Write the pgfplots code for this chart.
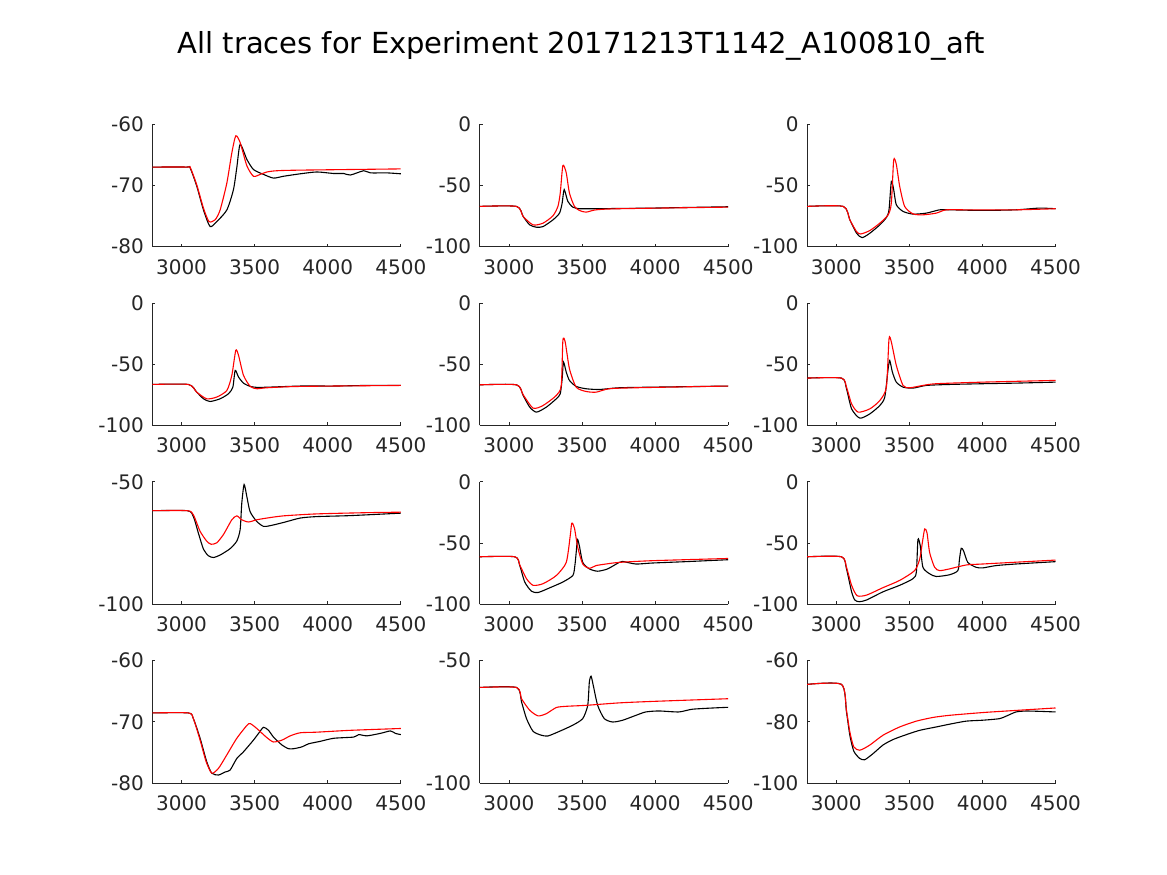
\documentclass[border=0pt]{standalone}
\usepackage{pgfplots}
\pgfplotsset{compat=1.18}
\usepackage{fontspec}
\setmainfont{DejaVu Sans}
\definecolor{axcol}{HTML}{262626}

\pgfplotsset{
  panel/.style={
    scale only axis, width=248.5pt, height=122.5pt, anchor=south west,
    xmin=2800, xmax=4500, xtick={3000,3500,4000,4500},
    axis x line*=bottom, axis y line*=left,
    axis line style={-, color=axcol, line width=0.8pt},
    tick style={color=axcol, line width=0.8pt},
    tick align=inside, major tick length=3pt,
    ticklabel style={font=\fontsize{20}{24}\selectfont, color=axcol},
    xticklabel style={yshift=-9pt},
    yticklabel style={xshift=-5pt},
    /pgf/number format/assume math mode=true,
    /pgf/number format/1000 sep={},
    scaled ticks=false,
  },
  exp/.style={black, line width=1.1pt, smooth, tension=0.4, no marks},
  sim/.style={red, line width=1.1pt, smooth, tension=0.4, no marks},
}

\begin{document}
\begin{tikzpicture}[x=1pt,y=1pt]
\path[use as bounding box] (0,0) rectangle (1167,875);
\node[font=\fontsize{29}{34}\selectfont, color=black] at (581.5,829) {All traces for Experiment 20171213T1142\_A100810\_aft};

% row 1
\begin{axis}[panel, at={(152.3pt,628.3pt)}, ymin=-80, ymax=-60, ytick={-80,-70,-60}]
\addplot[exp] coordinates {(2800,-67.0)(3035,-67.0)(3058,-67.1)(3104,-70.1)(3150,-74.0)(3195,-76.7)(3241,-75.9)(3310,-74.0)(3355,-70.7)(3378,-67.1)(3401,-63.3)(3447,-65.75)(3492,-67.4)(3561,-68.2)(3629,-68.8)(3698,-68.5)(3812,-68.1)(3926,-67.8)(4041,-68.05)(4109,-68.05)(4155,-68.3)(4246,-67.6)(4292,-67.95)(4406,-67.95)(4500,-68.1)};
\addplot[sim] coordinates {(2800,-67.0)(3040,-67.0)(3060,-67.1)(3104,-69.9)(3150,-73.7)(3188,-75.9)(3230,-75.6)(3264,-74.0)(3310,-69.6)(3344,-64.7)(3371,-61.9)(3401,-63.0)(3447,-66.8)(3492,-68.5)(3538,-68.2)(3584,-67.8)(3652,-67.6)(3812,-67.5)(4498,-67.3)};
\end{axis}

\begin{axis}[panel, at={(479.7pt,628.3pt)}, ymin=-100, ymax=0, ytick={-100,-50,0}]
\addplot[exp] coordinates {(2800,-67.1)(3052,-67.1)(3097,-75.3)(3142,-82.2)(3188,-84.1)(3233,-83.6)(3301,-78.1)(3346,-72.6)(3364,-64.4)(3378,-53.4)(3403,-63)(3437,-67.7)(3482,-69.0)(3573,-69)(3754,-68.8)(3981,-68.5)(4208,-68)(4500,-67.4)};
\addplot[sim] coordinates {(2800,-67.1)(3052,-67.1)(3097,-75.3)(3165,-82.2)(3233,-80.8)(3301,-74.8)(3335,-67.1)(3351,-56.2)(3369,-33.7)(3392,-39.7)(3414,-56.2)(3448,-67.1)(3482,-70.4)(3527,-71.8)(3596,-69.9)(3754,-69.0)(4500,-67.7)};
\end{axis}

\begin{axis}[panel, at={(807pt,628.3pt)}, ymin=-100, ymax=0, ytick={-100,-50,0}]
\addplot[exp] coordinates {(2800,-67.1)(3048,-67.1)(3093,-78.1)(3139,-89.0)(3177,-92.6)(3230,-89.0)(3298,-82.2)(3343,-76.2)(3361,-69.9)(3377,-46.6)(3393,-53.4)(3411,-65.8)(3457,-71.2)(3525,-73.4)(3616,-72.6)(3707,-69.9)(3775,-69.9)(4002,-70.4)(4230,-69.9)(4389,-68.5)(4500,-69)};
\addplot[sim] coordinates {(2800,-67.1)(3048,-67.1)(3093,-78.1)(3139,-87.7)(3168,-89.6)(3230,-86.8)(3298,-80.8)(3355,-74)(3377,-64.4)(3393,-29.3)(3411,-32.9)(3434,-50.7)(3468,-67.1)(3525,-73.2)(3593,-74)(3684,-72.6)(3752,-69.9)(3889,-69.9)(4230,-69.9)(4500,-69)};
\end{axis}

% row 2
\begin{axis}[panel, at={(152.3pt,449.5pt)}, ymin=-100, ymax=0, ytick={-100,-50,0}]
\addplot[exp] coordinates {(2800,-66.5)(3047,-66.5)(3104,-72.8)(3150,-78.2)(3195,-80.4)(3264,-78.2)(3321,-74.1)(3351,-68.7)(3367,-55)(3390,-60.5)(3424,-65.4)(3470,-68.1)(3538,-68.9)(3812,-67.8)(4041,-67.8)(4270,-67.3)(4500,-67.3)};
\addplot[sim] coordinates {(2800,-66.5)(3047,-66.5)(3104,-72.8)(3172,-78.2)(3241,-76.8)(3310,-71.4)(3344,-59.1)(3371,-38.7)(3390,-42.8)(3424,-59.1)(3470,-68.1)(3515,-70)(3584,-69.2)(3812,-68.1)(4500,-67.3)};
\end{axis}

\begin{axis}[panel, at={(479.7pt,449.5pt)}, ymin=-100, ymax=0, ytick={-100,-50,0}]
\addplot[exp] coordinates {(2800,-66.8)(3052,-66.8)(3097,-75.5)(3142,-85.0)(3188,-89.1)(3256,-85)(3324,-78.2)(3351,-74.1)(3364,-61.9)(3373,-48.2)(3392,-56.4)(3414,-63.2)(3460,-68.1)(3527,-70)(3618,-70.6)(3754,-69.2)(3981,-68.7)(4500,-67.8)};
\addplot[sim] coordinates {(2800,-66.8)(3052,-66.8)(3097,-74.9)(3165,-85.8)(3233,-83.7)(3324,-75.5)(3358,-67.3)(3369,-30.5)(3385,-31.9)(3414,-53.7)(3460,-68.7)(3527,-72.2)(3596,-72.8)(3686,-70)(3868,-69.2)(4500,-67.8)};
\end{axis}

\begin{axis}[panel, at={(807pt,449.5pt)}, ymin=-100, ymax=0, ytick={-100,-50,0}]
\addplot[exp] coordinates {(2800,-61.3)(3036,-61.3)(3070,-70)(3105,-86.4)(3161,-94)(3230,-90.5)(3298,-83.7)(3332,-76.8)(3355,-53.7)(3366,-46.9)(3384,-56.4)(3411,-64.6)(3457,-68.7)(3525,-69.5)(3616,-67.3)(3775,-66.5)(4002,-65.9)(4230,-65.4)(4500,-64.6)};
\addplot[sim] coordinates {(2800,-61.3)(3036,-61.3)(3070,-68.7)(3105,-82.3)(3150,-89.1)(3230,-86.4)(3298,-79.6)(3343,-68.7)(3361,-29.2)(3377,-31.9)(3411,-51.0)(3457,-67.3)(3502,-69.2)(3593,-67.3)(3684,-65.9)(4002,-64.6)(4500,-63.2)};
\end{axis}

% row 3
\begin{axis}[panel, at={(152.3pt,270.7pt)}, ymin=-100, ymax=-50, ytick={-100,-50}]
\addplot[exp] coordinates {(2800,-61.8)(3040,-61.8)(3081,-64.2)(3115,-70.9)(3150,-77.5)(3184,-80.2)(3218,-80.9)(3264,-79.9)(3332,-77.3)(3378,-74.2)(3401,-69.5)(3412,-58.8)(3428,-51.1)(3447,-56.1)(3469,-62.2)(3515,-66.2)(3561,-68.2)(3607,-67.9)(3698,-66.6)(3812,-64.8)(3926,-64.2)(4155,-63.8)(4500,-62.8)};
\addplot[sim] coordinates {(2800,-61.8)(3040,-61.8)(3081,-63.5)(3127,-70.2)(3172,-74.2)(3202,-75.5)(3241,-74.9)(3287,-71.5)(3344,-65.5)(3378,-63.9)(3412,-65.5)(3458,-66.4)(3515,-65.5)(3584,-64.8)(3698,-63.9)(3926,-63.1)(4269,-62.6)(4500,-62.4)};
\end{axis}

\begin{axis}[panel, at={(479.7pt,270.7pt)}, ymin=-100, ymax=0, ytick={-100,-50,0}]
\addplot[exp] coordinates {(2800,-61.2)(3040,-61.2)(3074,-68.4)(3108,-81.8)(3154,-89.3)(3199,-90.4)(3278,-86.6)(3369,-81.8)(3437,-76.5)(3451,-68.4)(3460,-57.8)(3469,-47.1)(3482,-52.4)(3505,-65.8)(3550,-71.1)(3607,-73.0)(3675,-71.1)(3754,-65.8)(3777,-65)(3868,-67.1)(3981,-66.3)(4208,-65.2)(4500,-63.6)};
\addplot[sim] coordinates {(2800,-61.2)(3040,-61.2)(3074,-67.9)(3120,-79.1)(3165,-84.5)(3233,-83.2)(3324,-76.5)(3392,-65.8)(3419,-44.4)(3430,-33.7)(3448,-37.7)(3471,-53.7)(3505,-67.1)(3550,-70.6)(3596,-68.4)(3664,-67.1)(3754,-65.8)(3981,-64.4)(4500,-62.6)};
\end{axis}

\begin{axis}[panel, at={(807pt,270.7pt)}, ymin=-100, ymax=0, ytick={-100,-50,0}]
\addplot[exp] coordinates {(2800,-61.2)(3036,-61.2)(3070,-71.1)(3105,-89.8)(3127,-96.5)(3157,-97.9)(3207,-96.5)(3320,-89.8)(3434,-84.5)(3525,-79.1)(3548,-73.8)(3559,-47.1)(3575,-52.4)(3593,-69.8)(3639,-75.1)(3684,-77.3)(3775,-75.9)(3832,-72.5)(3843,-63.1)(3855,-54.3)(3871,-56.4)(3900,-65.8)(3957,-69.8)(4002,-70.3)(4093,-68.4)(4230,-67.1)(4500,-65.2)};
\addplot[sim] coordinates {(2800,-61.2)(3036,-61.2)(3070,-69.8)(3105,-84.5)(3143,-93.0)(3207,-92.5)(3320,-86.4)(3434,-80.5)(3536,-72.5)(3571,-63.1)(3589,-49.7)(3605,-38.5)(3621,-41.7)(3639,-57.8)(3673,-69.8)(3707,-72.5)(3775,-71.1)(3889,-67.9)(4002,-67.1)(4500,-63.9)};
\end{axis}

% row 4
\begin{axis}[panel, at={(152.3pt,92pt)}, ymin=-80, ymax=-60, ytick={-80,-70,-60}]
\addplot[exp] coordinates {(2800,-68.56)(3047,-68.56)(3081,-69.5)(3127,-72.7)(3172,-76.5)(3207,-78.4)(3253,-78.7)(3298,-78.2)(3332,-77.9)(3378,-76.0)(3424,-74.9)(3492,-73.0)(3527,-71.9)(3561,-70.9)(3595,-71.4)(3629,-72.5)(3687,-73.8)(3732,-74.4)(3767,-74.4)(3824,-74.1)(3869,-73.6)(3949,-73.2)(4041,-72.7)(4178,-72.5)(4212,-72.1)(4269,-72.3)(4360,-71.9)(4429,-71.5)(4463,-71.9)(4500,-72.1)};
\addplot[sim] coordinates {(2800,-68.56)(3047,-68.56)(3081,-69.5)(3127,-73.0)(3168,-76.5)(3207,-78.4)(3253,-77.6)(3310,-75.4)(3378,-72.7)(3447,-70.6)(3470,-70.3)(3515,-71.1)(3584,-72.6)(3629,-73.3)(3687,-73.0)(3744,-72.3)(3812,-71.8)(3926,-71.7)(4155,-71.4)(4500,-71.1)};
\end{axis}

\begin{axis}[panel, at={(479.7pt,92pt)}, ymin=-100, ymax=-50, ytick={-100,-50}]
\addplot[exp] coordinates {(2800,-61.0)(3052,-61.0)(3086,-66.9)(3120,-73.7)(3165,-78.9)(3222,-80.5)(3267,-80.8)(3346,-78.9)(3437,-76.4)(3505,-73.7)(3539,-68.3)(3550,-58.8)(3562,-56.4)(3577,-60.2)(3607,-68.3)(3652,-73.7)(3709,-75.1)(3777,-74.4)(3868,-72.4)(3936,-71.0)(4026,-70.6)(4162,-71.0)(4253,-69.9)(4389,-69.4)(4500,-69.1)};
\addplot[sim] coordinates {(2800,-61.0)(3052,-61.0)(3086,-65.6)(3142,-70.3)(3199,-72.6)(3256,-71.7)(3324,-69.2)(3392,-68.7)(3527,-68.3)(3754,-67.3)(3981,-66.7)(4500,-65.6)};
\end{axis}

\begin{axis}[panel, at={(807pt,92pt)}, ymin=-100, ymax=-60, ytick={-100,-80,-60}]
\addplot[exp] coordinates {(2800,-67.8)(3036,-67.8)(3070,-76.8)(3093,-84.4)(3120,-89.6)(3161,-92.0)(3195,-92.4)(3252,-90.4)(3320,-87.6)(3389,-85.8)(3480,-84.2)(3571,-82.8)(3684,-81.7)(3775,-80.8)(3889,-79.8)(4002,-79.5)(4116,-79.0)(4161,-78.2)(4230,-76.8)(4298,-76.5)(4389,-76.6)(4500,-76.8)};
\addplot[sim] coordinates {(2800,-67.8)(3036,-67.8)(3070,-76.3)(3093,-83.3)(3120,-88.2)(3161,-89.3)(3230,-87.6)(3320,-84.4)(3434,-81.7)(3548,-79.8)(3661,-78.6)(3775,-77.9)(4002,-77.0)(4230,-76.3)(4500,-75.5)};
\end{axis}
\end{tikzpicture}
\end{document}
